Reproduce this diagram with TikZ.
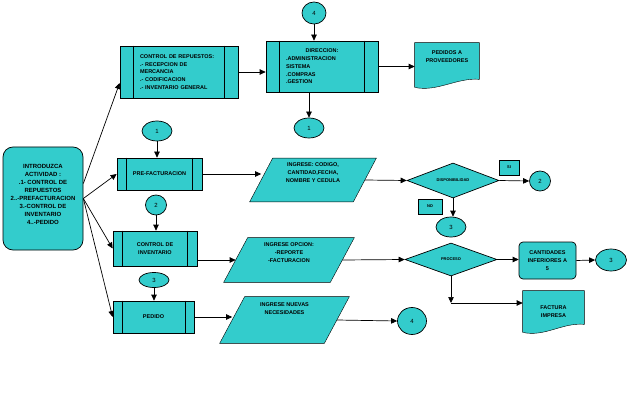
\documentclass[tikz,border=0pt]{standalone}
\usepackage{fontspec}
\setmainfont{Liberation Sans}
\usepackage{xcolor}
\usetikzlibrary{shapes.geometric,arrows.meta,backgrounds}
\definecolor{turq}{RGB}{51,204,204}

\begin{document}
\begin{tikzpicture}[x=1pt,y=-1pt,line width=0.7pt,
  font=\fontsize{5.5}{7.8}\selectfont\bfseries,
  every node/.style={inner sep=0pt},
  caja/.style={draw, fill=turq},
  elip/.style={ellipse, draw, fill=turq, font=\fontsize{6}{6}\selectfont\mdseries},
  decision/.style={diamond, draw, fill=turq, aspect=2.6, font=\fontsize{4}{5}\selectfont\bfseries},
  chica/.style={caja, font=\fontsize{4}{5}\selectfont\bfseries},
  arr/.style={-{Triangle[length=6pt,width=5.5pt]}}]
\useasboundingbox (0,0) rectangle (641,396);

% Menu de entrada
\node[caja, rounded corners=10pt, minimum width=80, minimum height=103, align=center, text depth=8pt,
  font=\fontsize{6}{8}\selectfont\bfseries] (intro) at (43,198.5)
  {INTRODUZCA\\ ACTIVIDAD :\\ .1- CONTROL DE\\ REPUESTOS\\ 2..-PREFACTURACION\\ 3.-CONTROL DE\\ INVENTARIO\\ 4..-PEDIDO};

% Procesos predefinidos
\node[caja, minimum width=118, minimum height=52, text width=78, align=left] (crep) at (179,72)
  {CONTROL DE REPUESTOS:\\ .- RECEPCION DE\\ MERCANCIA\\ .- CODIFICACION\\ .- INVENTARIO GENERAL};
\node[caja, minimum width=112, minimum height=51, text width=72, align=left] (dir) at (322,66.5)
  {\makebox[72pt]{DIRECCION:}\\ .ADMINISTRACION\\ SISTEMA\\ .COMPRAS\\ .GESTION};
\node[caja, minimum width=85, minimum height=32] (prefact) at (159.5,174) {PRE-FACTURACION};
\node[caja, minimum width=84, minimum height=35, align=center] (ctrlinv) at (155,248.5) {CONTROL DE\\ INVENTARIO};
\node[caja, minimum width=81, minimum height=32] (pedido) at (153.5,317) {PEDIDO};
\foreach \n/\d in {crep/14, dir/14, prefact/10, ctrlinv/10, pedido/9.5}{
  \draw ([xshift=\d pt]\n.north west) -- ([xshift=\d pt]\n.south west);
  \draw ([xshift=-\d pt]\n.north east) -- ([xshift=-\d pt]\n.south east);
}

% Entradas de datos
\node[minimum width=103, minimum height=43, align=center, text depth=15pt] (ing1) at (313,180)
  {INGRESE: CODIGO,\\ CANTIDAD,FECHA,\\ NOMBRE Y CEDULA};
\node[minimum width=106, minimum height=44, align=center, text depth=15pt] (ing2) at (289,260)
  {INGRESE OPCION:\\ -REPORTE\\ -FACTURACION};
\node[minimum width=104, minimum height=46, align=center, text depth=23pt] (ing3) at (284.5,320)
  {INGRESE NUEVAS\\ NECESIDADES};

% Documentos
\node[minimum width=64, minimum height=44, align=center, text depth=17pt] (pedprov) at (447,65)
  {PEDIDOS A\\ PROVEEDORES};
\node[minimum width=61, minimum height=41, align=center] (fact) at (553.5,311.5) {FACTURA\\ IMPRESA};

\begin{scope}[on background layer]
\foreach \n/\s in {ing1/11.5, ing2/12, ing3/12.5}
  \filldraw[fill=turq] ([xshift=\s pt]\n.north west) -- ([xshift=\s pt]\n.north east)
    -- ([xshift=-\s pt]\n.south east) -- ([xshift=-\s pt]\n.south west) -- cycle;
\foreach \n in {pedprov, fact}
  \filldraw[fill=turq] (\n.south west) -- (\n.north west) -- (\n.north east) -- ([yshift=8pt]\n.south east)
    .. controls ([xshift=-22pt,yshift=10pt]\n.south east) and ([xshift=22pt,yshift=-5pt]\n.south west) .. (\n.south west);
\end{scope}

% Decisiones
\node[decision, minimum width=92, minimum height=35] (disp) at (453,180.5) {DISPONIBILIDAD};
\node[decision, minimum width=92, minimum height=33] (proc) at (451,259.5) {PROCESO};
\node[chica, minimum width=20, minimum height=15] (si) at (509,167.5) {SI};
\node[chica, minimum width=24, minimum height=15] (no) at (430,206.5) {NO};
\node[caja, rounded corners=4pt, minimum width=57, minimum height=37, align=center] (cant) at (547.5,260.5)
  {CANTIDADES\\ INFERIORES A\\ 5};

% Conectores
\node[elip, minimum width=24, minimum height=22] (con4a) at (314,13) {4};
\node[elip, minimum width=30, minimum height=20] (con1a) at (309,128) {1};
\node[elip, minimum width=30, minimum height=20] (con1b) at (157,131) {1};
\node[elip, minimum width=21, minimum height=20] (con2b) at (156,205) {2};
\node[elip, minimum width=30, minimum height=15] (con3c) at (154,280) {3};
\node[elip, minimum width=21, minimum height=20] (con2a) at (540,181) {2};
\node[elip, minimum width=30, minimum height=20] (con3a) at (451,227) {3};
\node[elip, minimum width=31, minimum height=22] (con3b) at (611,260) {3};
\node[elip, minimum width=29, minimum height=27] (con4b) at (412,321) {4};

% Flechas
\draw[arr] ([yshift=15pt]intro.east) -- ([yshift=-11pt]crep.west);
\draw[arr] (intro.east) -- (prefact.west);
\draw[arr] (intro.east) -- (ctrlinv.west);
\draw[arr] (intro.east) -- (pedido.west);
\draw[arr] (crep.east) -- (crep.east -| dir.west);
\draw[arr] (dir.east) -- (dir.east -| pedprov.west);
\draw[arr] (con4a.south) -- (con4a.south |- dir.north);
\draw[arr] (dir.south -| con1a) -- (con1a.north);
\draw[arr] (con1b.south) -- (con1b.south |- prefact.north);
\draw[arr] (prefact.east) -- (prefact.east -| ing1.west);
\draw[arr] (ing1.east) -- (disp.west);
\draw[arr] (disp.east) -- (con2a.west);
\draw[arr] (disp.south) -- (disp.south |- con3a.north);
\draw[arr] (con2b.south) -- (con2b.south |- ctrlinv.north);
\draw[arr] (ctrlinv.east |- ing2.west) -- (ing2.west);
\draw[arr] (ing2.east) -- (proc.west);
\draw[arr] (proc.east) -- (proc.east -| cant.west);
\draw[arr] (cant.east) -- (con3b.west);
\draw[arr] (con3c.south) -- (con3c.south |- pedido.north);
\draw[arr] (pedido.east) -- (pedido.east -| ing3.west);
\draw[arr] (ing3.east) -- (con4b.west);
\coordinate (pdown) at (451,303);
\draw[arr] (proc.south) -- (pdown);
\draw[arr] (pdown) -- (pdown -| fact.west);

\end{tikzpicture}
\end{document}
